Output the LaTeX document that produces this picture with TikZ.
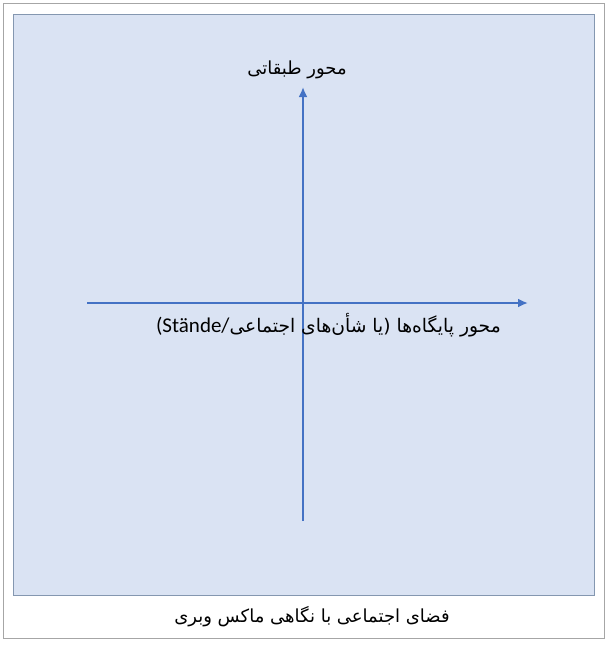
\documentclass[tikz,border=0pt]{standalone}
\usepackage{fontspec}
\usetikzlibrary{arrows.meta}
\setmainfont{DejaVu Sans}
\newfontfamily\arabicfont[Script=Arabic]{DejaVu Sans}
\newfontfamily\latinfont{Carlito}
\TeXXeTstate=1
\definecolor{panelfill}{HTML}{DAE3F3}
\definecolor{paneldraw}{HTML}{8497B0}
\definecolor{framedraw}{HTML}{A6A6A6}
\definecolor{axiscol}{HTML}{4472C4}
\begin{document}
\begin{tikzpicture}[x=1pt,y=-1pt,
  axis/.style={draw=axiscol,line width=2pt,-{Latex[length=10pt,width=9pt]}},
  lbl/.style={inner sep=0pt,font=\arabicfont\fontsize{18}{21}\selectfont}]
\useasboundingbox (0,0) rectangle (610,645);
\fill[white] (0,0) rectangle (610,645);
\draw[framedraw,line width=1pt] (3.5,3.5) rectangle (604,638);
\draw[paneldraw,fill=panelfill,line width=1pt] (13.5,14) rectangle (594.5,595.5);
\coordinate (vb) at (303,521);
\coordinate (vt) at (303,87);
\coordinate (hl) at (87,303);
\coordinate (hr) at (528,303);
\draw[axis] (vb) -- (vt);
\draw[axis] (hl) -- (hr);
\node[lbl] (tl) at (297,70) {\beginR محور طبقاتی\endR};
\node[lbl,anchor=east,font=\arabicfont\fontsize{18.7}{21}\selectfont] (hlab) at (501,325) {{\latinfont\fontsize{21}{23}\selectfont(Stände/}\beginR محور پایگاه‌ها (یا شأن‌های اجتماعی\endR};
\node[lbl] (cap) at (312,617) {\beginR فضای اجتماعی با نگاهی ماکس وبری\endR};
\end{tikzpicture}
\end{document}
